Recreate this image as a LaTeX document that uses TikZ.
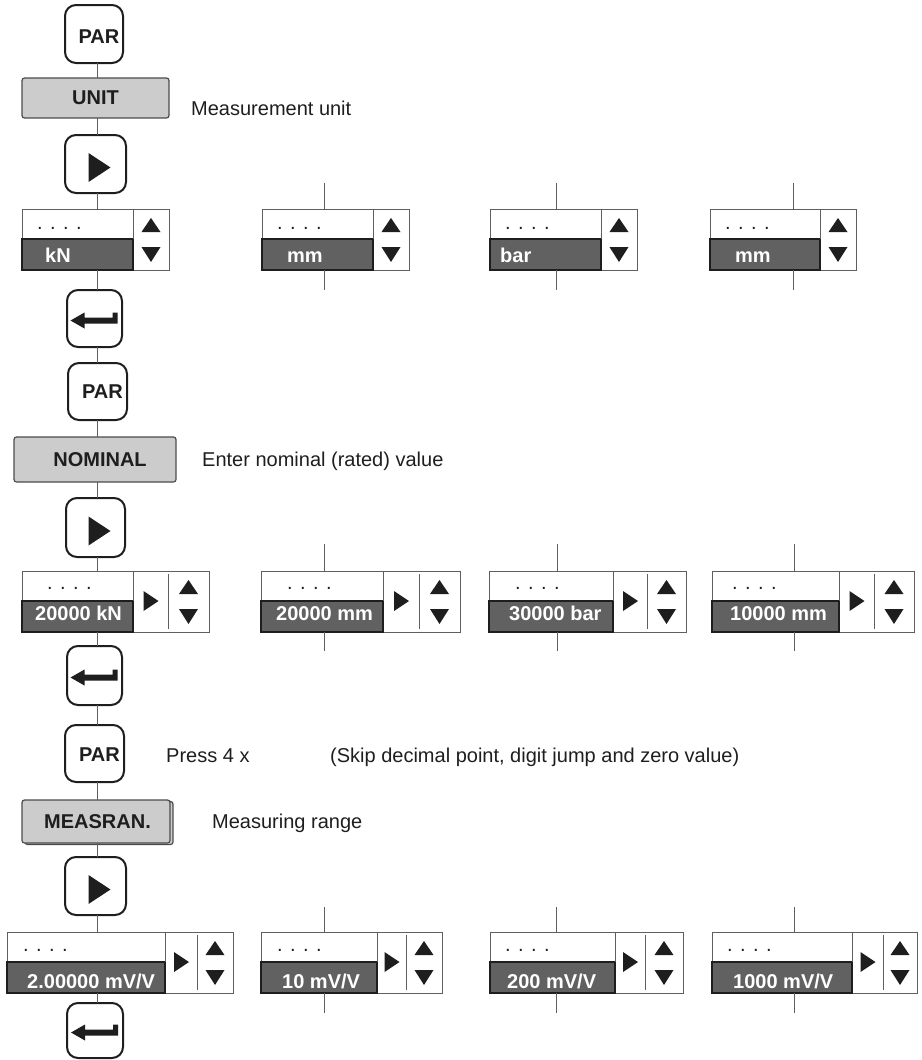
\documentclass[tikz,border=0pt]{standalone}
\usepackage{fontspec}
\setmainfont{Liberation Sans}
\definecolor{menugrey}{RGB}{204,204,204}
\definecolor{bandgrey}{RGB}{97,97,97}
\definecolor{ink}{RGB}{30,30,30}
\definecolor{linegrey}{RGB}{95,95,95}
\tikzset{
 btn/.style={draw=ink, line width=2pt, rounded corners=11pt, fill=white, inner sep=0pt, outer sep=0pt},
 menu/.style={draw=ink!80, line width=1.2pt, rounded corners=2.5pt, fill=menugrey, inner sep=0pt, outer sep=0pt},
 boldt/.style={font=\bfseries\fontsize{20}{24}\selectfont, text=ink, inner sep=0pt},
 lbl/.style={font=\fontsize{20}{24}\selectfont, text=ink, anchor=base west, inner sep=0pt},
 conn/.style={draw=linegrey, line width=1pt},
 tri/.style={fill=ink},
 dispedge/.style={draw=linegrey, line width=1pt},
 bandedge/.style={draw=ink, line width=1.3pt},
 dispt/.style={font=\bfseries\fontsize{20}{24}\selectfont, text=white, anchor=base west, inner sep=0pt},
 dotst/.style={font=\fontsize{20}{24}\selectfont, text=ink, anchor=base west, inner sep=0pt},
}
% #1 name, #2 left, #3 top, #4 dark end, #5 divider, #6 right, #7 dots x, #8 text x, #9 text
\newcommand{\dispbox}[9]{%
 \pgfmathsetmacro{\dw}{#6-#2}%
 \node[fill=white, draw=none, inner sep=0pt, outer sep=0pt, minimum width=\dw pt, minimum height=61pt, anchor=north west] (#1) at (#2,#3) {};
 \fill[bandgrey] (#2,{#3+30}) rectangle (#4,{#3+61});
 \draw[dispedge] (#1.north west) rectangle (#1.south east);
 \draw[bandedge] (#2,{#3+30}) rectangle (#4,{#3+61});
 \draw[dispedge] (#4,#3) -- (#4,{#3+30});
 \ifdim #5pt>#4pt
   \draw[dispedge] (#5,{#3+3}) -- (#5,{#3+58});
   \pgfmathsetmacro{\px}{(#4+#5)/2}%
   \fill[tri] ({\px-7},{#3+20}) -- ({\px+8},{#3+30}) -- ({\px-7},{#3+40}) -- cycle;
 \fi
 \pgfmathsetmacro{\ux}{(#5+#6)/2}%
 \fill[tri] ({\ux-9.5},{#3+23}) -- (\ux,{#3+9}) -- ({\ux+9.5},{#3+23}) -- cycle;
 \fill[tri] ({\ux-9.5},{#3+38}) -- (\ux,{#3+53}) -- ({\ux+9.5},{#3+38}) -- cycle;
 \node[dotst] (#1d) at (#7,{#3+\db}) {. . . .};
 \node[dispt] (#1t) at (#8,{#3+\tb}) {#9};
}
\newcommand{\playsym}[1]{\fill[tri,shift={(#1.center)}] (-7,-11) -- (15,3.5) -- (-7,18) -- cycle;}
\newcommand{\entersym}[1]{\fill[tri,shift={(#1.center)}] (-24,2) -- (-10,-6) -- (-10,-1) -- (18,-1) -- (18,-6) -- (23,-6) -- (23,5) -- (-10,5) -- (-10,10) -- cycle;}
\begin{document}
\begin{tikzpicture}[x=1pt,y=-1pt]
\useasboundingbox (0,0) rectangle (921,1060);
\coordinate (spine) at (97,0);

% ---------- UNIT block ----------
\node[btn, minimum width=58pt, minimum height=58pt] (par1) at (94,34) {};
\node[boldt] (par1t) at ([xshift=5pt,yshift=-3pt]par1.center) {PAR};
\node[menu, minimum width=147pt, minimum height=40pt] (unit) at (95.5,98) {};
\node[boldt] (unitt) at (unit.center) {UNIT};
\node[lbl] (unitl) at (191,115) {Measurement unit};
\node[btn, minimum width=61pt, minimum height=58pt] (play1) at (95.5,164) {};
\playsym{play1}

\def\db{20}\def\tb{53}
\dispbox{d11}{22}{209}{133}{133}{169}{37}{45}{kN}
\dispbox{d12}{262}{209}{373}{373}{409}{277}{287}{mm}
\dispbox{d13}{490}{209}{601}{601}{637}{505}{500}{bar}
\dispbox{d14}{710}{209}{820}{820}{856}{725}{735}{mm}

\node[btn, minimum width=55pt, minimum height=57pt] (ent1) at (94.5,318.5) {};
\entersym{ent1}

% ---------- NOMINAL block ----------
\node[btn, minimum width=59pt, minimum height=57pt] (par2) at (97.5,391.5) {};
\node[boldt] (par2t) at ([xshift=5pt]par2.center) {PAR};
\node[menu, minimum width=162pt, minimum height=45pt] (nom) at (95,459.5) {};
\node[boldt] (nomt) at ([xshift=5pt]nom.center) {NOMINAL};
\node[lbl] (noml) at (202,466) {Enter nominal (rated) value};
\node[btn, minimum width=59pt, minimum height=59pt] (play2) at (95.5,527.5) {};
\playsym{play2}

\def\db{18}\def\tb{49}
\dispbox{d21}{22}{571}{133}{168}{209}{47}{35}{20000 kN}
\dispbox{d22}{261}{571}{383}{419}{460}{287}{276}{20000 mm}
\dispbox{d23}{489}{571}{613}{647}{686}{515}{509}{30000 bar}
\dispbox{d24}{712}{571}{839}{874}{914}{732}{730}{10000 mm}

\node[btn, minimum width=55pt, minimum height=59pt] (ent2) at (94.5,675.5) {};
\entersym{ent2}

% ---------- MEASRAN block ----------
\node[btn, minimum width=59pt, minimum height=57pt] (par3) at (94.5,753.5) {};
\node[boldt] (par3t) at ([xshift=5pt,yshift=-1.5pt]par3.center) {PAR};
\node[lbl] (pressl) at (166,762) {Press 4 x};
\node[lbl] (skipl) at (330,762) {(Skip decimal point, digit jump and zero value)};
\node[menu, minimum width=148pt, minimum height=43pt] (meassh) at (99,823) {};
\node[menu, minimum width=148pt, minimum height=43pt] (meas) at (96,821.5) {};
\node[boldt] (meast) at ([xshift=1.5pt]meas.center) {MEASRAN.};
\node[lbl] (measl) at (212,828) {Measuring range};
\node[btn, minimum width=61pt, minimum height=58pt] (play3) at (95.5,886) {};
\playsym{play3}

\def\db{19}\def\tb{56}
\dispbox{d31}{7}{932}{165}{197}{233}{23}{27}{2.00000 mV/V}
\dispbox{d32}{261}{932}{377}{406}{442}{277}{282}{10 mV/V}
\dispbox{d33}{490}{932}{615}{645}{683}{505}{507}{200 mV/V}
\dispbox{d34}{712}{932}{852}{883}{917}{727}{733}{1000 mV/V}

\node[btn, minimum width=56pt, minimum height=55pt] (ent3) at (95,1030.5) {};
\entersym{ent3}

% ---------- main column connectors ----------
\draw[conn] (spine |- par1.south) -- (spine |- unit.north);
\draw[conn] (spine |- unit.south) -- (spine |- play1.north);
\draw[conn] (spine |- play1.south) -- (spine |- d11.north);
\draw[conn] (spine |- d11.south) -- (spine |- ent1.north);
\draw[conn] (spine |- ent1.south) -- (spine |- par2.north);
\draw[conn] (spine |- par2.south) -- (spine |- nom.north);
\draw[conn] (spine |- nom.south) -- (spine |- play2.north);
\draw[conn] (spine |- play2.south) -- (spine |- d21.north);
\draw[conn] (spine |- d21.south) -- (spine |- ent2.north);
\draw[conn] (spine |- ent2.south) -- (spine |- par3.north);
\draw[conn] (spine |- par3.south) -- (spine |- meas.north);
\draw[conn] (spine |- meas.south) -- (spine |- play3.north);
\draw[conn] (spine |- play3.south) -- (spine |- d31.north);
\draw[conn] (spine |- d31.south) -- (spine |- ent3.north);

% ---------- side column stubs ----------
\foreach \nm/\xx/\ya/\yb in {d12/324/183/290, d13/556/183/290, d14/793/183/290,
  d22/324/544/651, d23/557/544/651, d24/794/544/651,
  d32/324/907/1013, d33/556/907/1013, d34/794/907/1013}{
  \coordinate (\nm a) at (\xx,\ya);
  \coordinate (\nm b) at (\xx,\yb);
  \draw[conn] (\nm a) -- (\nm a |- \nm.north);
  \draw[conn] (\nm b |- \nm.south) -- (\nm b);
}
\end{tikzpicture}
\end{document}
